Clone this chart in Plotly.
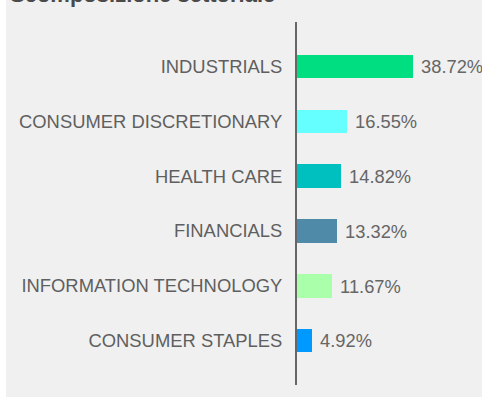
import plotly.graph_objects as go

# Sector breakdown (% of portfolio)
sectors = [
    "INDUSTRIALS",
    "CONSUMER DISCRETIONARY",
    "HEALTH CARE",
    "FINANCIALS",
    "INFORMATION TECHNOLOGY",
    "CONSUMER STAPLES",
]
weights = [38.72, 16.55, 14.82, 13.32, 11.67, 4.92]
bar_colors = ["#00DE82", "#66FFFF", "#00BFBF", "#4F8BA8", "#AAFFAA", "#0099FF"]

W, H = 482, 399
M_L, M_R, M_T, M_B = 297, 0, 22, 14
PX_PER_PCT = 3.0
FONT = "Liberation Sans, Arial, sans-serif"

fig = go.Figure(
    go.Bar(
        x=weights,
        y=sectors,
        orientation="h",
        marker=dict(color=bar_colors, line=dict(width=0)),
        width=0.43,
        text=[f" {v:.2f}%" for v in weights],
        textposition="outside",
        textfont=dict(family=FONT, size=18.3, color="#666666"),
        constraintext="none",
        cliponaxis=False,
        hoverinfo="skip",
    )
)

fig.update_layout(
    width=W,
    height=H,
    margin=dict(l=M_L, r=M_R, t=M_T, b=M_B, pad=0),
    paper_bgcolor="#ffffff",
    plot_bgcolor="rgba(0,0,0,0)",
    showlegend=False,
    bargap=0,
    xaxis=dict(
        range=[0, (W - M_L - M_R) / PX_PER_PCT],
        visible=False,
        fixedrange=True,
    ),
    yaxis=dict(
        type="category",
        categoryorder="array",
        categoryarray=sectors,
        range=[5.81, -0.815],
        showline=True,
        linecolor="#666666",
        linewidth=2,
        showgrid=False,
        zeroline=False,
        ticks="",
        ticklabelstandoff=9,
        tickfont=dict(family=FONT, size=18.4, color="#5f5f5f"),
        fixedrange=True,
    ),
    shapes=[
        # light grey card behind the chart
        dict(
            type="rect",
            xref="paper",
            yref="paper",
            x0=(6 - M_L) / (W - M_L - M_R),
            x1=1.0,
            y0=-(M_B - 2) / (H - M_T - M_B),
            y1=1 + M_T / (H - M_T - M_B),
            fillcolor="#f0f0f0",
            line=dict(width=0),
            layer="below",
        )
    ],
    annotations=[
        dict(
            text="<b>Scomposizione settoriale</b>",
            xref="paper",
            yref="paper",
            x=(8 - M_L) / (W - M_L - M_R),
            y=1 + (M_T - 9) / (H - M_T - M_B),
            xanchor="left",
            yanchor="bottom",
            showarrow=False,
            font=dict(family=FONT, size=22, color="#4a4a4a"),
        )
    ],
)

fig.write_html("out.html")
